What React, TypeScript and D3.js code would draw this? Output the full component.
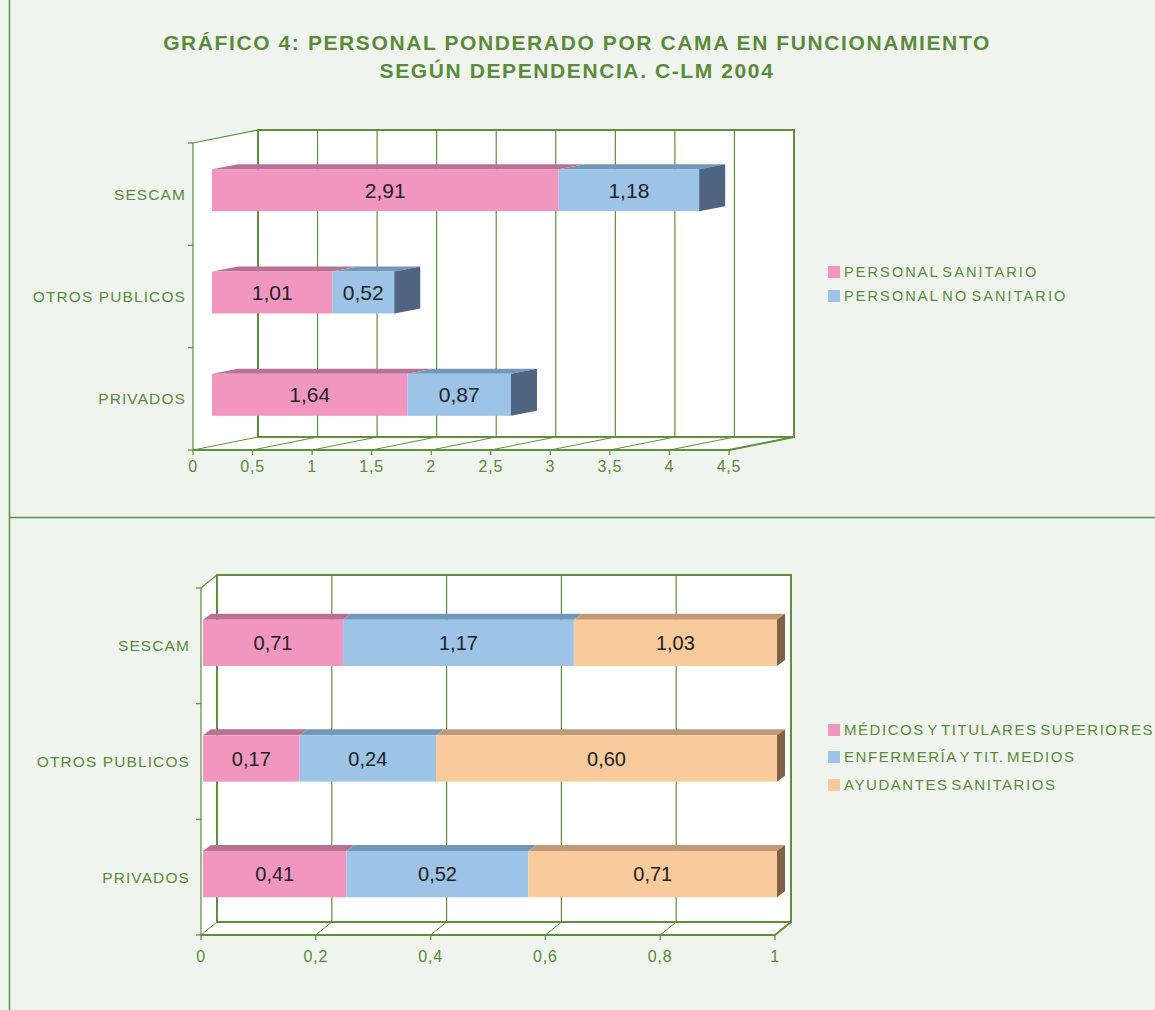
import React from "react";
import * as d3 from "d3";

// data
const categories = ["SESCAM", "OTROS PUBLICOS", "PRIVADOS"];

const personalSanitario = [2.91, 1.01, 1.64];
const personalNoSanitario = [1.18, 0.52, 0.87];

const medicos = [0.71, 0.17, 0.41];
const enfermeria = [1.17, 0.24, 0.52];
const ayudantes = [1.03, 0.6, 0.71];

const topTicks = [0, 0.5, 1, 1.5, 2, 2.5, 3, 3.5, 4, 4.5];
const bottomTicks = [0, 0.2, 0.4, 0.6, 0.8, 1];

const titleLines = [
  "GRÁFICO 4: PERSONAL PONDERADO POR CAMA EN FUNCIONAMIENTO",
  "SEGÚN DEPENDENCIA. C-LM 2004",
];

const GREEN = "#5b8a3a";
const LINE = "#5f8e3c";
const BG = "#eff5ee";
const FONT = "'Liberation Sans', Arial, sans-serif";

const PINK = { front: "#f197bf", top: "#b97194", side: "#9a5a78" };
const BLUE = { front: "#9dc3e6", top: "#7198ba", side: "#4e6480" };
const ORANGE = { front: "#f9cb9c", top: "#c09a77", side: "#7e6148" };

const comma = (v) => String(v).replace(".", ",");
const fmt2 = (v) => v.toFixed(2).replace(".", ",");

function Panel(props) {
  const {
    ox, top, bottom, width, max, ticks, wall, barOff, barDepth,
    pad, series, normalize, labelSize, labelRight, tickY,
  } = props;
  const [wdx, wdy] = wall;
  const [bx, by] = barOff;
  const [bdx, bdy] = barDepth;

  const x = d3.scaleLinear().domain([0, max]).range([ox, ox + width]);
  const y = d3
    .scaleBand()
    .domain(categories)
    .range([top, bottom])
    .paddingInner(pad)
    .paddingOuter(pad / 2);
  const step = y.step();
  const x0 = x(0);
  const x1 = x(max);

  // stacked rows
  const rows = categories.map((c, i) => {
    const vals = series.map((s) => s.values[i]);
    const total = d3.sum(vals);
    let acc = 0;
    const segs = vals.map((v, j) => {
      const share = normalize ? v / total : v;
      const s = { v, a: acc, b: acc + share, col: series[j].color };
      acc += share;
      return s;
    });
    return { c, segs };
  });

  return (
    <g>
      {/* side wall, floor, back wall */}
      <polygon
        points={`${x0},${top} ${x0 + wdx},${top + wdy} ${x0 + wdx},${bottom + wdy} ${x0},${bottom}`}
        fill="#fff"
      />
      <polygon
        points={`${x0},${bottom} ${x0 + wdx},${bottom + wdy} ${x1 + wdx},${bottom + wdy} ${x1},${bottom}`}
        fill="#fff"
      />
      <rect x={x0 + wdx} y={top + wdy} width={x1 - x0} height={bottom - top} fill="#fff" />

      {/* gridlines on back wall */}
      {ticks.map((t) => (
        <line
          key={"g" + t}
          x1={x(t) + wdx}
          x2={x(t) + wdx}
          y1={top + wdy}
          y2={bottom + wdy}
          stroke={LINE}
          strokeWidth={1.2}
        />
      ))}
      {/* floor diagonals */}
      {ticks.map((t) => (
        <line
          key={"f" + t}
          x1={x(t)}
          y1={bottom}
          x2={x(t) + wdx}
          y2={bottom + wdy}
          stroke={LINE}
          strokeWidth={1}
        />
      ))}
      <rect
        x={x0 + wdx}
        y={top + wdy}
        width={x1 - x0}
        height={bottom - top}
        fill="none"
        stroke={LINE}
        strokeWidth={2}
      />
      <line x1={x0} y1={bottom} x2={x1} y2={bottom} stroke={LINE} strokeWidth={2} />
      <line x1={x1} y1={bottom} x2={x1 + wdx} y2={bottom + wdy} stroke={LINE} strokeWidth={2} />
      <line x1={x0} y1={top} x2={x0} y2={bottom} stroke={LINE} strokeWidth={1.2} />
      <line x1={x0} y1={top} x2={x0 + wdx} y2={top + wdy} stroke={LINE} strokeWidth={1.2} />

      {/* axis ticks */}
      {categories.concat([""]).map((c, i) => (
        <line
          key={"ly" + i}
          x1={x0 - 5}
          x2={x0}
          y1={top + i * step}
          y2={top + i * step}
          stroke={LINE}
          strokeWidth={1.2}
        />
      ))}
      {ticks.map((t) => (
        <line key={"lx" + t} x1={x(t)} x2={x(t)} y1={bottom} y2={bottom + 5} stroke={LINE} strokeWidth={1.2} />
      ))}
      {ticks.map((t) => (
        <text
          key={"tx" + t}
          x={x(t)}
          y={tickY}
          textAnchor="middle"
          fontSize={16}
          letterSpacing={0.8}
          fill={GREEN}
          fontFamily={FONT}
        >
          {comma(t)}
        </text>
      ))}
      {categories.map((c) => (
        <text
          key={"c" + c}
          x={labelRight}
          y={y(c) + y.bandwidth() / 2 + 5.5}
          textAnchor="end"
          fontSize={15.5}
          letterSpacing={1.1}
          fill={GREEN}
          fontFamily={FONT}
        >
          {c}
        </text>
      ))}

      {/* 3D stacked bars */}
      {rows.map((r) => {
        const yy = y(r.c) + by;
        const h = y.bandwidth();
        const last = r.segs[r.segs.length - 1];
        const lx = x(last.b) + bx;
        return (
          <g key={"b" + r.c}>
            {r.segs.map((s, j) => {
              const a = x(s.a) + bx;
              const b = x(s.b) + bx;
              return (
                <g key={j}>
                  <polygon
                    points={`${a},${yy} ${b},${yy} ${b + bdx},${yy + bdy} ${a + bdx},${yy + bdy}`}
                    fill={s.col.top}
                  />
                  <rect x={a} y={yy} width={b - a} height={h} fill={s.col.front} />
                  <text
                    x={(a + b) / 2}
                    y={yy + h / 2 + labelSize * 0.36}
                    textAnchor="middle"
                    fontSize={labelSize}
                    fill="#222"
                    fontFamily={FONT}
                  >
                    {fmt2(s.v)}
                  </text>
                </g>
              );
            })}
            <polygon
              points={`${lx},${yy} ${lx + bdx},${yy + bdy} ${lx + bdx},${yy + h + bdy} ${lx},${yy + h}`}
              fill={last.col.side}
            />
          </g>
        );
      })}
    </g>
  );
}

function Legend({ x, items, ys, size, spacing }) {
  return (
    <g>
      {items.map((it, i) => (
        <g key={it.name}>
          <rect x={x} y={ys[i] - 6} width={12} height={12} fill={it.color.front} />
          <text
            x={x + 16}
            y={ys[i] + size * 0.36}
            fontSize={size}
            letterSpacing={spacing}
            wordSpacing={-3}
            fill={GREEN}
            fontFamily={FONT}
          >
            {it.name}
          </text>
        </g>
      ))}
    </g>
  );
}

export default function App() {
  const topSeries = [
    { name: "PERSONAL SANITARIO", values: personalSanitario, color: PINK },
    { name: "PERSONAL NO SANITARIO", values: personalNoSanitario, color: BLUE },
  ];
  const bottomSeries = [
    { name: "MÉDICOS Y TITULARES SUPERIORES", values: medicos, color: PINK },
    { name: "ENFERMERÍA Y TIT. MEDIOS", values: enfermeria, color: BLUE },
    { name: "AYUDANTES SANITARIOS", values: ayudantes, color: ORANGE },
  ];

  return (
    <svg
      width={1155}
      height={1010}
      style={{ position: "absolute", left: 0, top: 0, display: "block" }}
    >
      <rect x={0} y={0} width={1155} height={1010} fill={BG} />
      <line x1={9.5} y1={0} x2={9.5} y2={1010} stroke={LINE} strokeWidth={1.5} />
      <line x1={9} y1={517.5} x2={1155} y2={517.5} stroke={LINE} strokeWidth={1.5} />

      {titleLines.map((t, i) => (
        <text
          key={i}
          x={577}
          y={50 + i * 28}
          textAnchor="middle"
          fontSize={21}
          letterSpacing={1.6}
          fontWeight="bold"
          fill={GREEN}
          fontFamily={FONT}
        >
          {t}
        </text>
      ))}

      <Panel
        ox={193}
        top={143}
        bottom={450}
        width={536}
        max={4.5}
        ticks={topTicks}
        wall={[65, -13]}
        barOff={[19, -4]}
        barDepth={[26, -5]}
        pad={0.59}
        series={topSeries}
        normalize={false}
        labelSize={21}
        labelRight={186}
        tickY={472}
      />
      <Legend x={828} items={topSeries} ys={[272, 296]} size={14.5} spacing={2.1} />

      <Panel
        ox={201}
        top={588}
        bottom={935}
        width={574}
        max={1}
        ticks={bottomTicks}
        wall={[16, -13]}
        barOff={[2, -3]}
        barDepth={[8, -6]}
        pad={0.6}
        series={bottomSeries}
        normalize={true}
        labelSize={20}
        labelRight={190}
        tickY={962}
      />
      <Legend x={828} items={bottomSeries} ys={[730, 757, 785]} size={15} spacing={1.55} />
    </svg>
  );
}
